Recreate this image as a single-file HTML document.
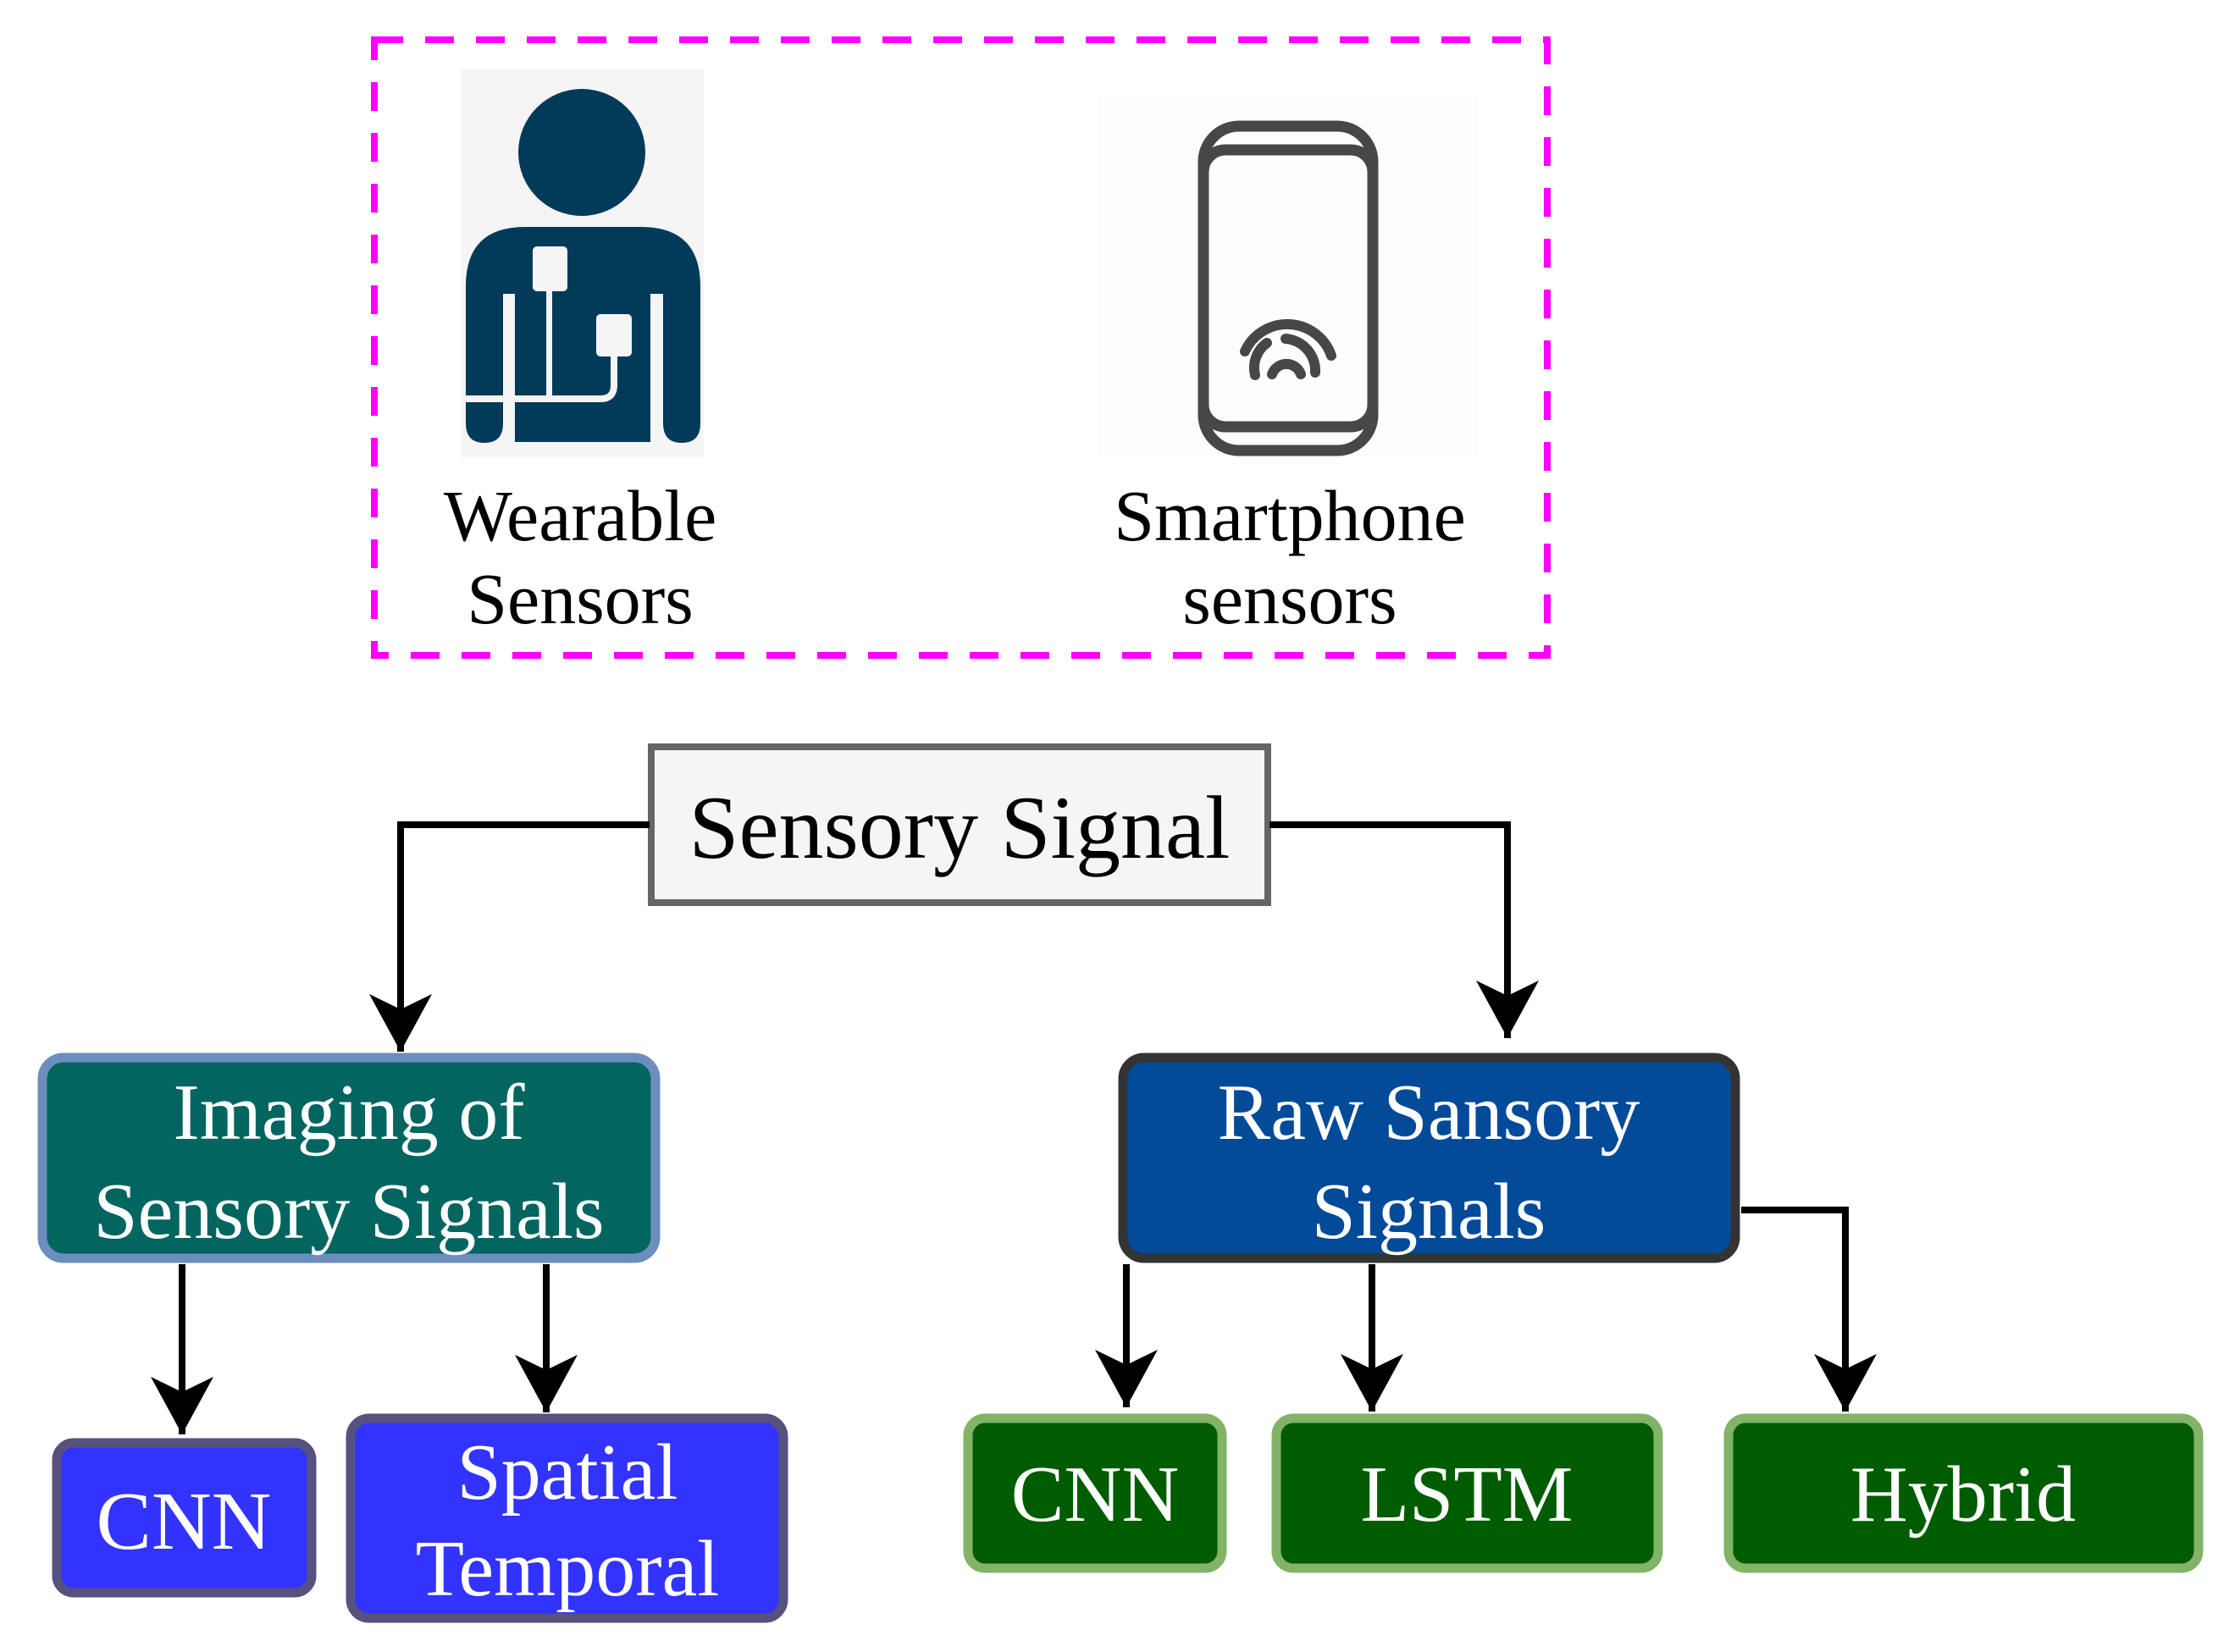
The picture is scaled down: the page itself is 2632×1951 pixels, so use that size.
<!DOCTYPE html>
<html><head><meta charset="utf-8"><style>
html,body{margin:0;padding:0;background:#fff;}
svg{display:block;}
text{font-family:"Liberation Serif",serif;}
</style></head><body>
<svg width="2632" height="1951" viewBox="0 0 2632 1951" xmlns="http://www.w3.org/2000/svg">
<defs>
<marker id="ah" markerUnits="userSpaceOnUse" markerWidth="80" markerHeight="80" refX="68" refY="37" orient="auto">
<path d="M0,0 L68,37 L0,74 L18,37 Z" fill="#000"/>
</marker>
</defs>
<rect x="442" y="47" width="1385" height="727" fill="none" stroke="#ff00ff" stroke-width="8" stroke-dasharray="34,26"/>
<rect x="544" y="82" width="287" height="458" fill="#f5f5f5"/>
<circle cx="687" cy="180" r="75" fill="#023a5a"/>
<path d="M550,338 Q550,268 620,268 L757,268 Q827,268 827,338 L827,500 Q827,523 805,523 Q783,523 783,500 L783,347 L768,347 L768,522 L608,522 L608,347 L594,347 L594,500 Q594,523 572,523 Q550,523 550,500 Z" fill="#023a5a"/>
<rect x="594" y="347" width="14" height="176" fill="#f5f5f5"/>
<rect x="629" y="291" width="41" height="53" rx="5" fill="#f5f5f5"/>
<rect x="645" y="340" width="7" height="130" fill="#f5f5f5"/>
<rect x="704" y="371" width="42" height="50" rx="5" fill="#f5f5f5"/>
<path d="M725,418 L725,455 Q725,471 709,471 L550,471" fill="none" stroke="#f5f5f5" stroke-width="8"/>
<rect x="1296" y="113" width="450" height="427" fill="#fdfdfd"/>
<rect x="1421" y="149" width="200" height="383" rx="42" fill="none" stroke="#474747" stroke-width="13"/>
<rect x="1421" y="177" width="200" height="327" rx="26" fill="none" stroke="#474747" stroke-width="13"/>
<g fill="none" stroke="#474747" stroke-width="12" stroke-linecap="round">
<path d="M1470,415 A55,55 0 0 1 1572,420"/>
<path d="M1482,443 A36,36 0 0 1 1496,405"/>
<path d="M1518,400 A38,38 0 0 1 1553,440"/>
<path d="M1502,442 A18,18 0 0 1 1536,442"/>
</g>
<text x="685" y="638" font-size="86" text-anchor="middle" fill="#000">Wearable</text>
<text x="685" y="736" font-size="86" text-anchor="middle" fill="#000">Sensors</text>
<text x="1523" y="638" font-size="86" text-anchor="middle" fill="#000">Smartphone</text>
<text x="1523" y="736" font-size="86" text-anchor="middle" fill="#000">sensors</text>
<rect x="769" y="882" width="728" height="184" fill="#f5f5f5" stroke="#666" stroke-width="8"/>
<text x="1133" y="1013" font-size="106" text-anchor="middle" fill="#000">Sensory Signal</text>
<g fill="none" stroke="#000" stroke-width="8" marker-end="url(#ah)">
<path d="M767,974 L473,974 L473,1242"/>
<path d="M1499,974 L1780,974 L1780,1226"/>
<path d="M215,1493 L215,1694"/>
<path d="M645,1493 L645,1668"/>
<path d="M1330,1493 L1330,1662"/>
<path d="M1620,1493 L1620,1667"/>
<path d="M2056,1429 L2179,1429 L2179,1667"/>
</g>
<rect x="50" y="1249" width="724" height="237" rx="25" fill="#02655f" stroke="#6c8ebf" stroke-width="11"/>
<text x="412" y="1345" font-size="94" text-anchor="middle" fill="#fff">Imaging of</text>
<text x="412" y="1462" font-size="94" text-anchor="middle" fill="#fff">Sensory Signals</text>
<rect x="1326" y="1249" width="723" height="237" rx="25" fill="#034a99" stroke="#333" stroke-width="11"/>
<text x="1687" y="1345" font-size="94" text-anchor="middle" fill="#fff">Raw Sansory</text>
<text x="1687" y="1462" font-size="94" text-anchor="middle" fill="#fff">Signals</text>
<rect x="67" y="1704" width="301" height="177" rx="20" fill="#3333ff" stroke="#56517e" stroke-width="11"/>
<text x="217" y="1829" font-size="98" text-anchor="middle" fill="#fff">CNN</text>
<rect x="414" y="1675" width="511" height="236" rx="22" fill="#3333ff" stroke="#56517e" stroke-width="11"/>
<text x="670" y="1770" font-size="94" text-anchor="middle" fill="#fff">Spatial</text>
<text x="670" y="1884" font-size="94" text-anchor="middle" fill="#fff">Temporal</text>
<rect x="1143" y="1675" width="300" height="177" rx="20" fill="#005c00" stroke="#82b366" stroke-width="11"/>
<text x="1293" y="1796" font-size="94" text-anchor="middle" fill="#fff">CNN</text>
<rect x="1507" y="1675" width="451" height="177" rx="20" fill="#005c00" stroke="#82b366" stroke-width="11"/>
<text x="1732" y="1796" font-size="94" text-anchor="middle" fill="#fff">LSTM</text>
<rect x="2041" y="1675" width="555" height="177" rx="20" fill="#005c00" stroke="#82b366" stroke-width="11"/>
<text x="2318" y="1796" font-size="94" text-anchor="middle" fill="#fff">Hybrid</text>
</svg>
</body></html>
